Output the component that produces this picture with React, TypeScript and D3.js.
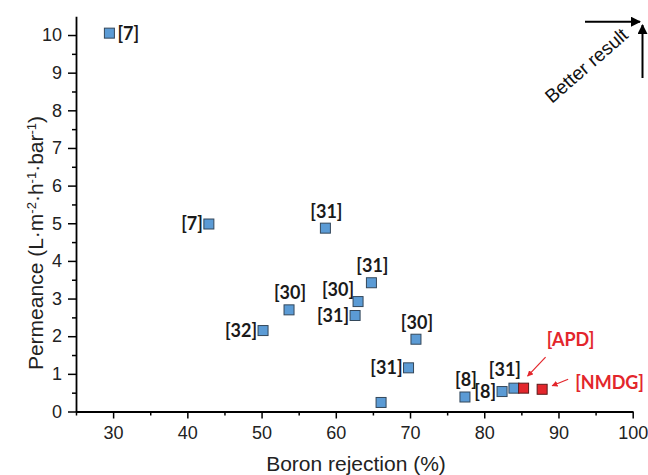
import React, { useEffect, useRef } from 'react';
import * as d3 from 'd3';

// literature points
const rejection = [29.5, 42.9, 58.6, 64.8, 63.0, 62.6, 53.7, 50.2, 70.8, 69.8, 66.1, 77.4, 82.4, 84.0];
const permeance = [10.05, 4.98, 4.87, 3.42, 2.92, 2.55, 2.7, 2.15, 1.92, 1.16, 0.24, 0.385, 0.53, 0.62];
const refLabels = ['[7]', '[7]', '[31]', '[31]', '[30]', '[31]', '[30]', '[32]', '[30]', '[31]', '', '[8]', '[8]', '[31]'];
const labelSide = ['right', 'left', 'above', 'above', 'upleft', 'left', 'above', 'left', 'above', 'left', 'none', 'above', 'left', 'aboveleft'];

// this work
const workRejection = [85.3, 87.8];
const workPermeance = [0.62, 0.59];
const workLabels = ['[APD]', '[NMDG]'];

const xMajor = [30, 40, 50, 60, 70, 80, 90, 100];
const xMinor = [25, 35, 45, 55, 65, 75, 85, 95];
const yMajor = [0, 1, 2, 3, 4, 5, 6, 7, 8, 9, 10];
const yMinor = [0.5, 1.5, 2.5, 3.5, 4.5, 5.5, 6.5, 7.5, 8.5, 9.5];

const W = 648;
const H = 475;

const App = () => {
  const ref = useRef(null);

  useEffect(() => {
    const svg = d3.select(ref.current);
    svg.selectAll('*').remove();

    const x = d3.scaleLinear().domain([25, 100]).range([76, 632.7]);
    const y = d3.scaleLinear().domain([0, 10.5]).range([411.5, 16.2]);
    const tickFont = 'Arial, "Liberation Sans", sans-serif';
    const labFont = 'Lato, "Open Sans", sans-serif';

    // minor ticks first
    svg.append('g')
      .attr('transform', `translate(0,${y(0)})`)
      .call(d3.axisBottom(x).tickValues(xMinor).tickSize(4).tickFormat(() => ''))
      .call(g => g.select('.domain').remove())
      .call(g => g.selectAll('line').attr('stroke-width', 1.5));
    svg.append('g')
      .attr('transform', `translate(${x(25)},0)`)
      .call(d3.axisLeft(y).tickValues(yMinor).tickSize(4).tickFormat(() => ''))
      .call(g => g.select('.domain').remove())
      .call(g => g.selectAll('line').attr('stroke-width', 1.5));

    const xAxis = svg.append('g')
      .attr('transform', `translate(0,${y(0)})`)
      .call(d3.axisBottom(x).tickValues(xMajor).tickSize(7).tickSizeOuter(0).tickPadding(8));
    const yAxis = svg.append('g')
      .attr('transform', `translate(${x(25)},0)`)
      .call(d3.axisLeft(y).tickValues(yMajor).tickSize(8).tickSizeOuter(0).tickPadding(6));

    [xAxis, yAxis].forEach(a => {
      a.select('.domain').attr('stroke-width', 1.8);
      a.selectAll('line').attr('stroke-width', 1.5);
      a.selectAll('text')
        .attr('font-family', tickFont)
        .attr('font-size', 18)
        .attr('fill', '#222');
    });

    // axis titles
    svg.append('text')
      .attr('x', 356)
      .attr('y', 471)
      .attr('text-anchor', 'middle')
      .attr('font-family', tickFont)
      .attr('font-size', 21)
      .attr('fill', '#222')
      .text('Boron rejection (%)');

    const yt = svg.append('text')
      .attr('transform', 'translate(43,243) rotate(-90)')
      .attr('text-anchor', 'middle')
      .attr('font-family', tickFont)
      .attr('font-size', 21)
      .attr('fill', '#222');
    const parts = [
      ['Permeance (L·m', false], ['-2', true], ['·h', false], ['-1', true], ['·bar', false], ['-1', true], [')', false],
    ];
    parts.forEach(([t, sup]) => {
      yt.append('tspan')
        .attr('font-size', sup ? 13 : 21)
        .attr('baseline-shift', sup ? '55%' : null)
        .text(t);
    });

    // literature points
    const ms = 10;
    const pts = rejection.map((r, i) => ({ r, p: permeance[i], label: refLabels[i], side: labelSide[i] }));
    svg.append('g').selectAll('rect')
      .data(pts)
      .join('rect')
      .attr('x', d => x(d.r) - ms / 2)
      .attr('y', d => y(d.p) - ms / 2)
      .attr('width', ms)
      .attr('height', ms)
      .attr('fill', '#5b9bd5')
      .attr('stroke', '#33475a')
      .attr('stroke-width', 1);

    const place = {
      right: { dx: 8, dy: 0, anchor: 'start' },
      left: { dx: -6, dy: 0, anchor: 'end' },
      above: { dx: 1, dy: -17, anchor: 'middle' },
      upleft: { dx: -4, dy: -12, anchor: 'end' },
      aboveleft: { dx: -9, dy: -19, anchor: 'middle' },
    };
    svg.append('g').selectAll('text')
      .data(pts.filter(d => d.side !== 'none'))
      .join('text')
      .attr('x', d => x(d.r) + place[d.side].dx)
      .attr('y', d => y(d.p) + place[d.side].dy)
      .attr('dy', '0.36em')
      .attr('text-anchor', d => place[d.side].anchor)
      .attr('font-family', labFont)
      .attr('font-weight', 'bold')
      .attr('font-size', 18)
      .attr('fill', '#1a1a1a')
      .text(d => d.label);

    // this work
    const red = '#e3262c';
    const work = workRejection.map((r, i) => ({ r, p: workPermeance[i], label: workLabels[i] }));
    svg.append('g').selectAll('rect')
      .data(work)
      .join('rect')
      .attr('x', d => x(d.r) - ms / 2)
      .attr('y', d => y(d.p) - ms / 2)
      .attr('width', ms)
      .attr('height', ms)
      .attr('fill', red)
      .attr('stroke', '#5a1a1a')
      .attr('stroke-width', 1);

    const defs = svg.append('defs');
    const mk = (id, color, w, h) => defs.append('marker')
      .attr('id', id)
      .attr('viewBox', '0 0 10 10')
      .attr('refX', 9)
      .attr('refY', 5)
      .attr('markerUnits', 'userSpaceOnUse')
      .attr('markerWidth', w)
      .attr('markerHeight', h)
      .attr('orient', 'auto')
      .append('path')
      .attr('d', 'M0,0 L10,5 L0,10 Z')
      .attr('fill', color);
    mk('redHead', red, 6, 6);
    mk('blackHead', '#000', 12, 10);

    const workPlace = [
      { tx: 47, ty: -49, anchor: 'middle', a: [22, -31, 4, -12] },
      { tx: 33, ty: -7, anchor: 'start', a: [26, -10, 10, -3.6] },
    ];
    work.forEach((d, i) => {
      const px = x(d.r);
      const py = y(d.p);
      const wp = workPlace[i];
      svg.append('text')
        .attr('x', px + wp.tx)
        .attr('y', py + wp.ty)
        .attr('dy', '0.36em')
        .attr('text-anchor', wp.anchor)
        .attr('font-family', labFont)
        .attr('font-weight', 'bold')
        .attr('font-size', 18)
        .attr('fill', red)
        .text(d.label);
      svg.append('line')
        .attr('x1', px + wp.a[0])
        .attr('y1', py + wp.a[1])
        .attr('x2', px + wp.a[2])
        .attr('y2', py + wp.a[3])
        .attr('stroke', red)
        .attr('stroke-width', 1.2)
        .attr('marker-end', 'url(#redHead)');
    });

    // "better result" corner arrows
    svg.append('line')
      .attr('x1', 585).attr('y1', 21.7).attr('x2', 640).attr('y2', 21.7)
      .attr('stroke', '#000').attr('stroke-width', 2)
      .attr('marker-end', 'url(#blackHead)');
    svg.append('line')
      .attr('x1', 642.5).attr('y1', 78).attr('x2', 642.5).attr('y2', 25)
      .attr('stroke', '#000').attr('stroke-width', 2)
      .attr('marker-end', 'url(#blackHead)');
    svg.append('text')
      .attr('transform', 'translate(552,104) rotate(-41)')
      .attr('font-family', tickFont)
      .attr('font-size', 19)
      .attr('fill', '#111')
      .text('Better result');
  }, []);

  return (
    <svg ref={ref} width={W} height={H} style={{ position: 'absolute', left: 0, top: 0 }} />
  );
};

export default App;
